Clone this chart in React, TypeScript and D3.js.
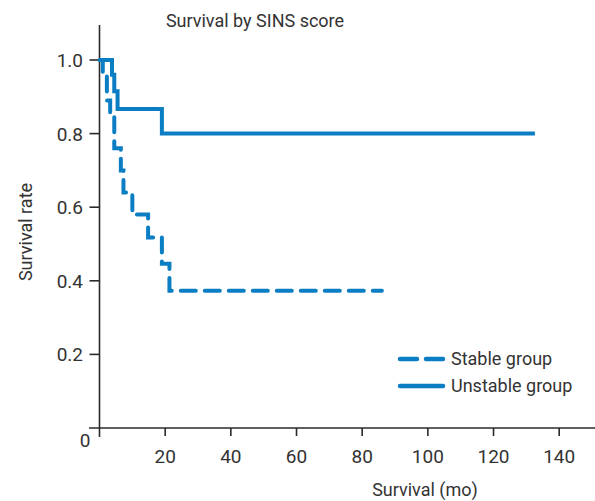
import React from "react";
import * as d3 from "d3";

const title = "Survival by SINS score";
const xLabel = "Survival (mo)";
const yLabel = "Survival rate";
const xTicks = [20, 40, 60, 80, 100, 120, 140];
const yTicks = [0.2, 0.4, 0.6, 0.8, 1.0];

const stableTimes = [0, 1.0, 2.25, 3.25, 4.5, 6.5, 7.3, 10, 14.8, 19, 21.3, 86];
const stableSurv = [1.0, 0.96, 0.89, 0.85, 0.76, 0.7, 0.64, 0.58, 0.518, 0.446, 0.373, 0.373];

const unstableTimes = [0, 3.8, 4.5, 5.5, 19, 132.6];
const unstableSurv = [1.0, 0.96, 0.915, 0.867, 0.8, 0.8];

const legendNames = ["Stable group", "Unstable group"];

const BLUE = "#0b7dc3";
const AXIS = "#2a2a2a";
const FONT = "Roboto, 'Liberation Sans', sans-serif";

export default function App() {
  const x = d3.scaleLinear().domain([0, 140]).range([99.5, 559.2]);
  const y = d3.scaleLinear().domain([0, 1]).range([428, 60]);

  const line = d3
    .line<[number, number]>()
    .x((d) => x(d[0]))
    .y((d) => y(d[1]))
    .curve(d3.curveStepAfter);

  const stable: [number, number][] = stableTimes.map((t, i) => [t, stableSurv[i]]);
  const unstable: [number, number][] = unstableTimes.map((t, i) => [t, unstableSurv[i]]);

  return (
    <svg
      width={595}
      height={501}
      style={{ position: "absolute", left: 0, top: 0, background: "#fff" }}
      fontFamily={FONT}
    >
      <text x={255} y={27} fontSize={18} textAnchor="middle" fill="#333">
        {title}
      </text>

      {/* axes */}
      <line x1={x(0)} y1={25} x2={x(0)} y2={437} stroke={AXIS} strokeWidth={1.6} />
      <line x1={89} y1={y(0)} x2={595} y2={y(0)} stroke={AXIS} strokeWidth={1.6} />
      {xTicks.map((t) => (
        <g key={t}>
          <line x1={x(t)} y1={y(0)} x2={x(t)} y2={y(0) + 8} stroke={AXIS} strokeWidth={1.6} />
          <text x={x(t)} y={463} fontSize={19} textAnchor="middle" fill="#333">
            {t}
          </text>
        </g>
      ))}
      <text x={85} y={447} fontSize={19} textAnchor="middle" fill="#333">
        0
      </text>
      {yTicks.map((t) => (
        <g key={t}>
          <line x1={89.5} y1={y(t)} x2={x(0)} y2={y(t)} stroke={AXIS} strokeWidth={1.6} />
          <text x={83} y={y(t) + 7} fontSize={19} textAnchor="end" fill="#333">
            {t.toFixed(1)}
          </text>
        </g>
      ))}

      <text x={425} y={496} fontSize={18} textAnchor="middle" fill="#333">
        {xLabel}
      </text>
      <text
        transform={`translate(32,232) rotate(-90)`}
        fontSize={18}
        textAnchor="middle"
        fill="#333"
      >
        {yLabel}
      </text>

      {/* curves */}
      <path
        d={line(unstable) || ""}
        fill="none"
        stroke={BLUE}
        strokeWidth={4}
      />
      <path
        d={line(stable) || ""}
        fill="none"
        stroke={BLUE}
        strokeWidth={4}
        strokeDasharray="15,9"
        strokeLinecap="round"
      />

      {/* legend */}
      <line
        x1={400}
        y1={359}
        x2={443}
        y2={359}
        stroke={BLUE}
        strokeWidth={4.5}
        strokeDasharray="17,9"
        strokeLinecap="round"
      />
      <text x={451} y={365} fontSize={18} fill="#333">
        {legendNames[0]}
      </text>
      <line x1={400} y1={386} x2={443} y2={386} stroke={BLUE} strokeWidth={4.5} strokeLinecap="round" />
      <text x={451} y={392} fontSize={18} fill="#333">
        {legendNames[1]}
      </text>
    </svg>
  );
}
